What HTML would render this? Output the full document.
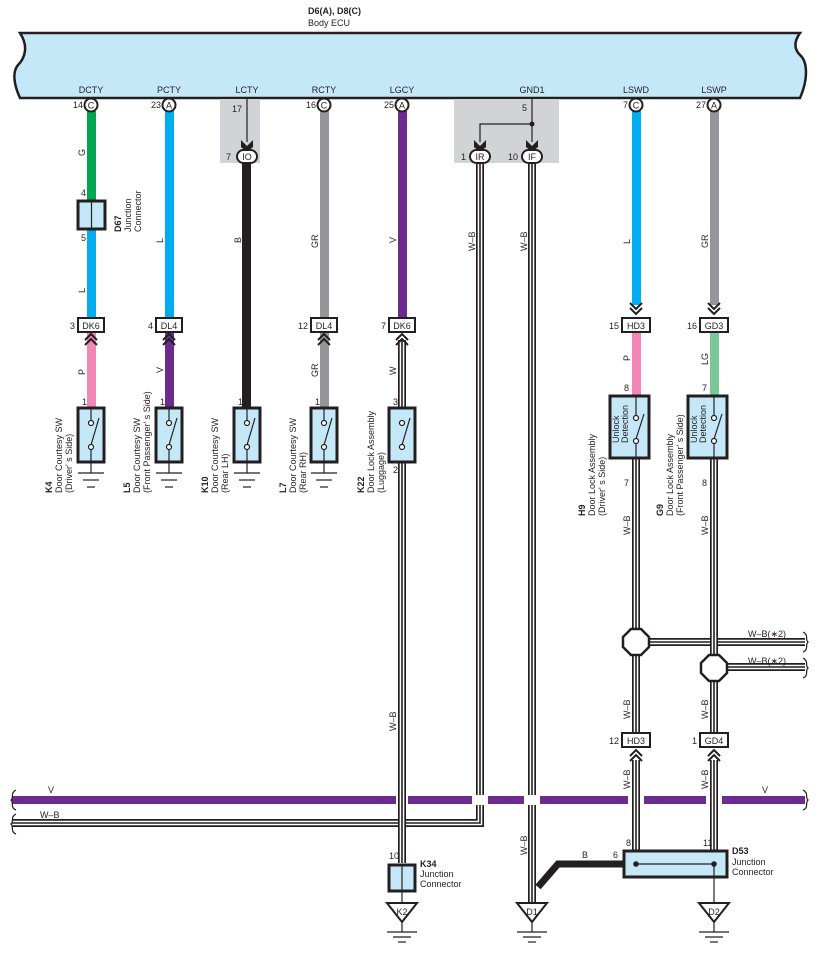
<!DOCTYPE html>
<html><head><meta charset="utf-8"><style>
body{margin:0;background:#fff}
svg{display:block}
text{font-family:"Liberation Sans",sans-serif;font-size:9px;fill:#231f20}
.b{font-weight:bold}
.dw1{fill:none;stroke:#231f20;stroke-width:8}
.dw2{fill:none;stroke:#fff;stroke-width:4.6}
.dw3{fill:none;stroke:#231f20;stroke-width:1.6}
.box{fill:#c5e8f8;stroke:#231f20;stroke-width:3}
.ch{fill:none;stroke:#231f20;stroke-width:2}
.ln{fill:none;stroke:#231f20;stroke-width:1.2}
.cb{fill:#fff;stroke:#231f20;stroke-width:2}
</style></head><body>
<svg width="818" height="956" viewBox="0 0 818 956" xmlns="http://www.w3.org/2000/svg">
<defs>
<path id="p1" d="M480 163 V823 H12"/>
<path id="p2" d="M532 163 V903"/>
<path id="p3" d="M402 340 V408"/>
<path id="p4" d="M402 462 V863"/>
<path id="p5" d="M636 458 V733 M636 760 V851"/>
<path id="p6" d="M714 458 V733 M714 760 V851"/>
<path id="p7" d="M649 642 H805"/>
<path id="p8" d="M727 667 H805"/>
<g id="sw"><rect x="-13" y="0" width="26" height="54" class="box"/><line x1="0" y1="0" x2="0" y2="12" class="ln"/><circle cx="0" cy="15" r="2.5" fill="#fff" stroke="#231f20" stroke-width="1.2"/><circle cx="0" cy="39" r="2.5" fill="#fff" stroke="#231f20" stroke-width="1.2"/><line x1="0" y1="37" x2="8" y2="10" class="ln" stroke-width="1.5"/><line x1="0" y1="42" x2="0" y2="65" class="ln"/><line x1="-13" y1="65" x2="13" y2="65" class="ln"/><line x1="-8" y1="72" x2="8" y2="72" class="ln"/><line x1="-4" y1="79" x2="4" y2="79" class="ln"/></g>
<g id="up"><polyline points="-6,8 0,2 6,8" class="ch"/><polyline points="-6,13 0,7 6,13" class="ch"/></g>
<g id="dn"><polyline points="-6,-8 0,-2 6,-8" class="ch"/><polyline points="-6,-13 0,-7 6,-13" class="ch"/></g>
<g id="gnd"><polygon points="-15,0 15,0 0,19" fill="#fff" stroke="#231f20" stroke-width="2"/><line x1="0" y1="19" x2="0" y2="29" class="ln"/><line x1="-15" y1="29" x2="15" y2="29" class="ln"/><line x1="-9" y1="34" x2="9" y2="34" class="ln"/><line x1="-4" y1="39" x2="4" y2="39" class="ln"/></g>
</defs>

<text x="308" y="14" class="b">D6(A), D8(C)</text>
<text x="308" y="26">Body ECU</text>
<path d="M20 33 H800 C795 40 793 48 800 55 C808 62 808 80 800 98 H20 C14 85 12 72 18 65 C26 57 28 45 20 33 Z" fill="#c5e8f8" stroke="#231f20" stroke-width="2.5"/>
<text x="91" y="93" text-anchor="middle">DCTY</text>
<text x="169" y="93" text-anchor="middle">PCTY</text>
<text x="247" y="93" text-anchor="middle">LCTY</text>
<text x="324" y="93" text-anchor="middle">RCTY</text>
<text x="402" y="93" text-anchor="middle">LGCY</text>
<text x="532" y="93" text-anchor="middle">GND1</text>
<text x="636" y="93" text-anchor="middle">LSWD</text>
<text x="714" y="93" text-anchor="middle">LSWP</text>

<rect x="220" y="99" width="40" height="64" fill="#d1d3d4"/>
<rect x="454" y="99" width="105" height="64" fill="#d1d3d4"/>

<rect x="87" y="111" width="9" height="90" fill="#00a651"/>
<rect x="87" y="229" width="9" height="89" fill="#00aeef"/>
<rect x="87" y="332" width="9" height="76" fill="#f287b7"/>
<rect x="165" y="111" width="9" height="207" fill="#00aeef"/>
<rect x="165" y="332" width="9" height="76" fill="#6c2c8f"/>
<rect x="242" y="163" width="9" height="245" fill="#231f20"/>
<rect x="320" y="111" width="9" height="207" fill="#939598"/>
<rect x="320" y="332" width="9" height="76" fill="#939598"/>
<rect x="398" y="111" width="9" height="207" fill="#6c2c8f"/>
<rect x="632" y="111" width="9" height="194" fill="#00aeef"/>
<rect x="632" y="332" width="9" height="64" fill="#f287b7"/>
<rect x="710" y="111" width="9" height="194" fill="#939598"/>
<rect x="710" y="332" width="9" height="64" fill="#78c89a"/>

<g class="cb">
<circle cx="91" cy="105" r="6.5"/><circle cx="169" cy="105" r="6.5"/><circle cx="324" cy="105" r="6.5"/><circle cx="402" cy="105" r="6.5"/><circle cx="636" cy="105" r="6.5"/><circle cx="714" cy="105" r="6.5"/>
</g>
<g text-anchor="middle">
<text x="91" y="108.5">C</text><text x="169" y="108.5">A</text><text x="324" y="108.5">C</text><text x="402" y="108.5">A</text><text x="636" y="108.5">C</text><text x="714" y="108.5">A</text>
</g>
<g text-anchor="end">
<text x="83" y="108">14</text><text x="161" y="108">23</text><text x="316" y="108">16</text><text x="394" y="108">25</text><text x="628" y="108">7</text><text x="706" y="108">27</text>
</g>

<text x="232" y="112">17</text>
<line x1="247" y1="99" x2="247" y2="142" class="ln"/>
<polygon points="241,140 247,146 253,140 253,147 247,152 241,147" fill="#231f20"/>
<rect x="237" y="150" width="20" height="13" rx="6.5" class="cb"/>
<text x="247" y="160" text-anchor="middle">IO</text>
<text x="231" y="160" text-anchor="end">7</text>

<text x="522" y="111">5</text>
<path d="M532 99 V142 M532 124 H480 V142" class="ln"/>
<circle cx="532" cy="124" r="2.5" fill="#231f20"/>
<polygon points="474,140 480,146 486,140 486,147 480,152 474,147" fill="#231f20"/>
<polygon points="526,140 532,146 538,140 538,147 532,152 526,147" fill="#231f20"/>

<use href="#p1" class="dw1"/><use href="#p1" class="dw2"/><use href="#p1" class="dw3"/>
<use href="#p2" class="dw1"/><use href="#p2" class="dw2"/><use href="#p2" class="dw3"/>
<use href="#p3" class="dw1"/><use href="#p3" class="dw2"/><use href="#p3" class="dw3"/>
<use href="#p7" class="dw1"/><use href="#p7" class="dw2"/><use href="#p7" class="dw3"/>
<use href="#p8" class="dw1"/><use href="#p8" class="dw2"/><use href="#p8" class="dw3"/>

<rect x="12" y="796" width="793" height="8" fill="#6c2c8f"/>
<g fill="#fff">
<rect x="472" y="795" width="16" height="10"/><rect x="524" y="795" width="16" height="10"/><rect x="396" y="795" width="12" height="10"/><rect x="628" y="795" width="16" height="10"/><rect x="706" y="795" width="16" height="10"/>
</g>
<use href="#p4" class="dw1"/><use href="#p4" class="dw2"/><use href="#p4" class="dw3"/>
<use href="#p5" class="dw1"/><use href="#p5" class="dw2"/><use href="#p5" class="dw3"/>
<use href="#p6" class="dw1"/><use href="#p6" class="dw2"/><use href="#p6" class="dw3"/>

<rect x="470" y="150" width="20" height="13" rx="6.5" class="cb"/>
<text x="480" y="160" text-anchor="middle">IR</text>
<text x="466" y="160" text-anchor="end">1</text>
<rect x="522" y="150" width="20" height="13" rx="6.5" class="cb"/>
<text x="532" y="160" text-anchor="middle">IF</text>
<text x="518" y="160" text-anchor="end">10</text>

<path d="M16 790 C10 793 14 798 11 800 C14 802 10 808 16 810 M16 814 C10 817 14 822 11 824 C14 826 10 832 16 834" class="ln"/>
<path d="M803 790 C809 793 805 798 808 800 C805 802 809 808 803 810" class="ln"/>
<path d="M803 632 C809 635 805 640 808 642 C805 644 809 650 803 652 M803 658 C809 661 805 666 808 668 C805 670 809 676 803 678" class="ln"/>
<text x="48" y="793">V</text>
<text x="40" y="818">W–B</text>
<text x="762" y="793">V</text>
<text x="748" y="637">W–B(∗2)</text>
<text x="748" y="664">W–B(∗2)</text>

<polygon points="631,629 641,629 649,637 649,647 641,655 631,655 623,647 623,637" fill="#fff" stroke="#231f20" stroke-width="2.5"/>
<polygon points="709,655 719,655 727,663 727,673 719,681 709,681 701,673 701,663" fill="#fff" stroke="#231f20" stroke-width="2.5"/>

<rect x="78" y="201" width="27" height="28" class="box"/>
<line x1="91.5" y1="201" x2="91.5" y2="229" class="ln"/>
<text x="81" y="196">4</text><text x="81" y="241">5</text>
<g transform="translate(121,232) rotate(-90)"><text x="0" y="0" class="b">D67</text><text x="0" y="10">Junction</text><text x="0" y="20">Connector</text></g>

<g class="cb">
<rect x="78" y="318" width="26" height="14"/><rect x="156" y="318" width="26" height="14"/><rect x="311" y="318" width="26" height="14"/><rect x="389" y="318" width="26" height="14"/><rect x="622" y="318" width="28" height="14"/><rect x="700" y="318" width="28" height="14"/>
<rect x="622" y="733" width="28" height="14"/><rect x="700" y="733" width="28" height="14"/>
</g>
<g text-anchor="middle">
<text x="91" y="329">DK6</text><text x="169" y="329">DL4</text><text x="324" y="329">DL4</text><text x="402" y="329">DK6</text><text x="636" y="329">HD3</text><text x="714" y="329">GD3</text>
<text x="636" y="744">HD3</text><text x="714" y="744">GD4</text>
</g>
<g text-anchor="end">
<text x="75" y="329">3</text><text x="153" y="329">4</text><text x="308" y="329">12</text><text x="386" y="329">7</text><text x="619" y="329">15</text><text x="697" y="329">16</text>
<text x="619" y="744">12</text><text x="697" y="744">1</text>
</g>
<use href="#up" x="91" y="332"/><use href="#up" x="169" y="332"/><use href="#up" x="324" y="332"/><use href="#up" x="402" y="332"/>
<use href="#dn" x="636" y="316"/><use href="#dn" x="714" y="316"/>
<use href="#up" x="636" y="748"/><use href="#up" x="714" y="748"/>

<use href="#sw" x="91" y="408"/><use href="#sw" x="169" y="408"/><use href="#sw" x="247" y="408"/><use href="#sw" x="324" y="408"/>
<g transform="translate(402,408)"><rect x="-13" y="0" width="26" height="54" class="box"/><circle cx="0" cy="15" r="2.5" fill="#fff" stroke="#231f20" stroke-width="1.2"/><circle cx="0" cy="39" r="2.5" fill="#fff" stroke="#231f20" stroke-width="1.2"/><line x1="0" y1="37" x2="8" y2="10" class="ln" stroke-width="1.5"/></g>
<g text-anchor="end">
<text x="87" y="405">1</text><text x="165" y="405">1</text><text x="243" y="405">1</text><text x="320" y="405">1</text><text x="398" y="405">3</text><text x="398" y="473">2</text>
</g>

<g>
<g transform="translate(85,156) rotate(-90)"><text>G</text></g>
<g transform="translate(85,293) rotate(-90)"><text>L</text></g>
<g transform="translate(85,375) rotate(-90)"><text>P</text></g>
<g transform="translate(163,243) rotate(-90)"><text>L</text></g>
<g transform="translate(163,373) rotate(-90)"><text>V</text></g>
<g transform="translate(241,243) rotate(-90)"><text>B</text></g>
<g transform="translate(318,248) rotate(-90)"><text>GR</text></g>
<g transform="translate(318,377) rotate(-90)"><text>GR</text></g>
<g transform="translate(396,243) rotate(-90)"><text>V</text></g>
<g transform="translate(396,375) rotate(-90)"><text>W</text></g>
<g transform="translate(475,251) rotate(-90)"><text>W–B</text></g>
<g transform="translate(527,251) rotate(-90)"><text>W–B</text></g>
<g transform="translate(630,244) rotate(-90)"><text>L</text></g>
<g transform="translate(708,248) rotate(-90)"><text>GR</text></g>
<g transform="translate(630,361) rotate(-90)"><text>P</text></g>
<g transform="translate(708,365) rotate(-90)"><text>LG</text></g>
<g transform="translate(630,535) rotate(-90)"><text>W–B</text></g>
<g transform="translate(708,535) rotate(-90)"><text>W–B</text></g>
<g transform="translate(396,731) rotate(-90)"><text>W–B</text></g>
<g transform="translate(630,719) rotate(-90)"><text>W–B</text></g>
<g transform="translate(708,719) rotate(-90)"><text>W–B</text></g>
<g transform="translate(630,789) rotate(-90)"><text>W–B</text></g>
<g transform="translate(708,789) rotate(-90)"><text>W–B</text></g>
<g transform="translate(527,855) rotate(-90)"><text>W–B</text></g>
</g>

<g transform="translate(52,493) rotate(-90)"><text class="b">K4</text><text y="10">Door Courtesy SW</text><text y="20">(Driver' s Side)</text></g>
<g transform="translate(130,493) rotate(-90)"><text class="b">L5</text><text y="10">Door Courtesy SW</text><text y="20">(Front Passenger' s Side)</text></g>
<g transform="translate(208,493) rotate(-90)"><text class="b">K10</text><text y="10">Door Courtesy SW</text><text y="20">(Rear LH)</text></g>
<g transform="translate(286,493) rotate(-90)"><text class="b">L7</text><text y="10">Door Courtesy SW</text><text y="20">(Rear RH)</text></g>
<g transform="translate(364,493) rotate(-90)"><text class="b">K22</text><text y="10">Door Lock Assembly</text><text y="20">(Luggage)</text></g>
<g transform="translate(585,516) rotate(-90)"><text class="b">H9</text><text y="10">Door Lock Assembly</text><text y="20">(Driver' s Side)</text></g>
<g transform="translate(663,516) rotate(-90)"><text class="b">G9</text><text y="10">Door Lock Assembly</text><text y="20">(Front Passenger' s Side)</text></g>

<g transform="translate(636,396)"><rect x="-26" y="0" width="39" height="62" class="box"/><line x1="0" y1="0" x2="0" y2="20" class="ln"/><circle cx="0" cy="22" r="2.5" fill="#fff" stroke="#231f20" stroke-width="1.2"/><circle cx="0" cy="45" r="2.5" fill="#fff" stroke="#231f20" stroke-width="1.2"/><line x1="0" y1="43" x2="8" y2="18" class="ln" stroke-width="1.5"/><line x1="0" y1="47" x2="0" y2="62" class="ln"/><g transform="translate(-17,47) rotate(-90)"><text>Unlock</text><text y="9">Detection</text></g></g>
<g transform="translate(714,396)"><rect x="-26" y="0" width="39" height="62" class="box"/><line x1="0" y1="0" x2="0" y2="20" class="ln"/><circle cx="0" cy="22" r="2.5" fill="#fff" stroke="#231f20" stroke-width="1.2"/><circle cx="0" cy="45" r="2.5" fill="#fff" stroke="#231f20" stroke-width="1.2"/><line x1="0" y1="43" x2="8" y2="18" class="ln" stroke-width="1.5"/><line x1="0" y1="47" x2="0" y2="62" class="ln"/><g transform="translate(-17,47) rotate(-90)"><text>Unlock</text><text y="9">Detection</text></g></g>
<text x="629" y="391" text-anchor="end">8</text><text x="707" y="391" text-anchor="end">7</text>
<text x="629" y="486" text-anchor="end">7</text><text x="707" y="486" text-anchor="end">8</text>

<rect x="389" y="865" width="26" height="26" class="box"/>
<line x1="402" y1="865" x2="402" y2="903" class="ln"/>
<text x="389" y="859">10</text>
<text x="420" y="867" class="b">K34</text><text x="420" y="877">Junction</text><text x="420" y="887">Connector</text>
<use href="#gnd" x="402" y="903"/><text x="402" y="915" text-anchor="middle">K2</text>
<use href="#gnd" x="532" y="903"/><text x="532" y="915" text-anchor="middle">D1</text>

<path d="M538 887 L558 864 H625" fill="none" stroke="#231f20" stroke-width="7"/>
<rect x="624" y="851" width="103" height="26" class="box"/>
<line x1="636" y1="864" x2="714" y2="864" class="ln"/>
<circle cx="636" cy="864" r="2.8" fill="#231f20"/><circle cx="714" cy="864" r="2.8" fill="#231f20"/>
<line x1="714" y1="864" x2="714" y2="903" class="ln"/>
<text x="582" y="858">B</text><text x="613" y="858">6</text><text x="626" y="846">8</text><text x="703" y="846">11</text>
<text x="732" y="854" class="b">D53</text><text x="732" y="865">Junction</text><text x="732" y="875">Connector</text>
<use href="#gnd" x="714" y="903"/><text x="714" y="915" text-anchor="middle">D2</text>
</svg>
</body></html>
